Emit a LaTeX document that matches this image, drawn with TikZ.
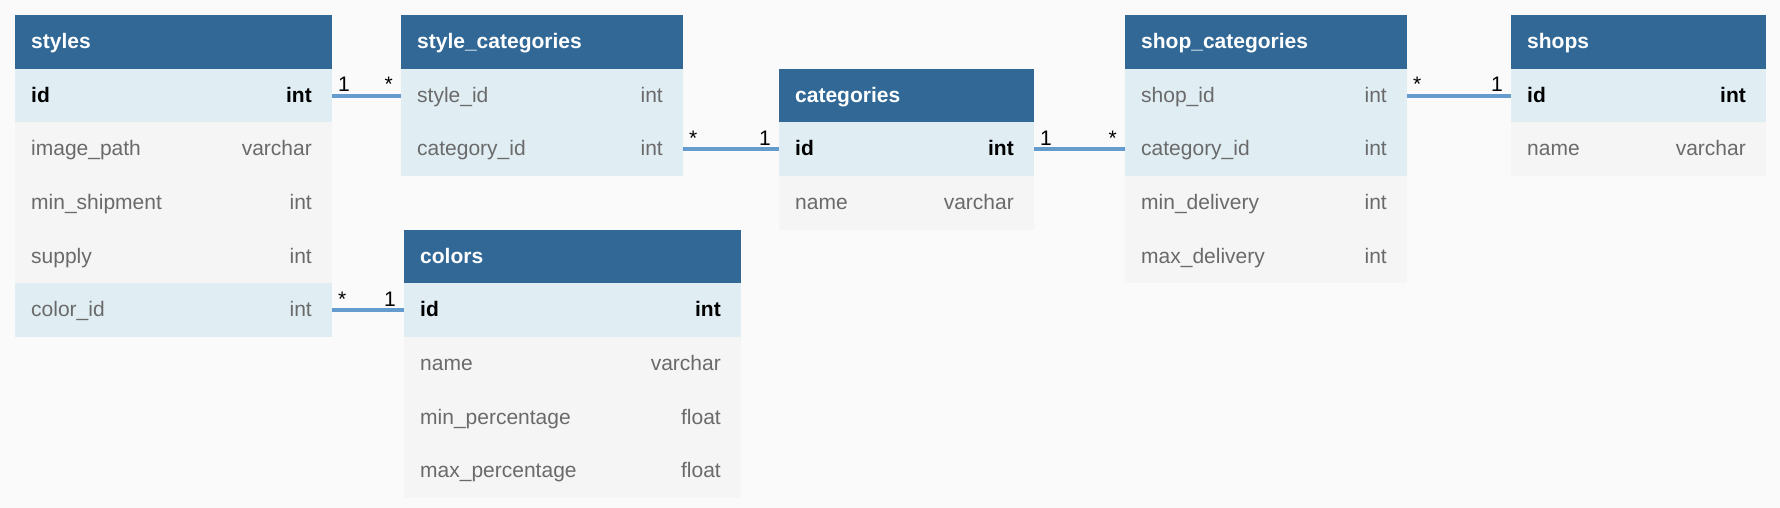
\documentclass[tikz,border=0pt]{standalone}
\usepackage{fontspec}
\setmainfont{Liberation Sans}
\definecolor{hdr}{HTML}{316896}
\definecolor{keyrow}{HTML}{E0EEF4}
\definecolor{plainrow}{HTML}{F5F5F5}
\definecolor{bgc}{HTML}{FAFAFA}
\definecolor{conn}{HTML}{639CCD}
\definecolor{gtxt}{HTML}{6A6A6A}
\tikzset{
  rowbox/.style={rectangle, inner sep=0pt, outer sep=0pt, minimum height=53.67pt},
  hdrtxt/.style={inner sep=0pt, text=white, font=\fontsize{21}{25}\selectfont\bfseries},
  keytxt/.style={inner sep=0pt, text=black, font=\fontsize{21}{25}\selectfont\bfseries},
  fldtxt/.style={inner sep=0pt, text=gtxt, font=\fontsize{21}{25}\selectfont},
  lbl/.style={inner sep=0pt, text=black, font=\fontsize{21}{25}\selectfont},
  link/.style={draw=conn, line width=4pt},
}
\newcommand{\erow}[8]{%
  \node[rowbox, fill=#5, minimum width=#4pt, anchor=north west] (#1) at (#2,#3) {};
  \node[#8, anchor=base west] at ([xshift=16pt,yshift=-6.5pt]#1.west) {#6};
  \node[#8, anchor=base east] at ([xshift=-20pt,yshift=-6.5pt]#1.east) {#7};
}
\begin{document}
\begin{tikzpicture}[x=1pt,y=-1pt]
\fill[bgc] (0,0) rectangle (1780,508);
\useasboundingbox (0,0) rectangle (1780,508);
% styles
\erow{st-h}{15}{15}{317}{hdr}{styles}{}{hdrtxt}
\erow{st-id}{15}{68.67}{317}{keyrow}{id}{int}{keytxt}
\erow{st-img}{15}{122.33}{317}{plainrow}{image\_path}{varchar}{fldtxt}
\erow{st-min}{15}{176}{317}{plainrow}{min\_shipment}{int}{fldtxt}
\erow{st-sup}{15}{229.67}{317}{plainrow}{supply}{int}{fldtxt}
\erow{st-col}{15}{283.33}{317}{keyrow}{color\_id}{int}{fldtxt}
% style_categories
\erow{sc-h}{401}{15}{282}{hdr}{style\_categories}{}{hdrtxt}
\erow{sc-style}{401}{68.67}{282}{keyrow}{style\_id}{int}{fldtxt}
\erow{sc-cat}{401}{122.33}{282}{keyrow}{category\_id}{int}{fldtxt}
% colors
\erow{co-h}{404}{229.67}{337}{hdr}{colors}{}{hdrtxt}
\erow{co-id}{404}{283.33}{337}{keyrow}{id}{int}{keytxt}
\erow{co-name}{404}{337}{337}{plainrow}{name}{varchar}{fldtxt}
\erow{co-min}{404}{390.67}{337}{plainrow}{min\_percentage}{float}{fldtxt}
\erow{co-max}{404}{444.33}{337}{plainrow}{max\_percentage}{float}{fldtxt}
% categories
\erow{ca-h}{779}{68.67}{255}{hdr}{categories}{}{hdrtxt}
\erow{ca-id}{779}{122.33}{255}{keyrow}{id}{int}{keytxt}
\erow{ca-name}{779}{176}{255}{plainrow}{name}{varchar}{fldtxt}
% shop_categories
\erow{sh-h}{1125}{15}{282}{hdr}{shop\_categories}{}{hdrtxt}
\erow{sh-shop}{1125}{68.67}{282}{keyrow}{shop\_id}{int}{fldtxt}
\erow{sh-cat}{1125}{122.33}{282}{keyrow}{category\_id}{int}{fldtxt}
\erow{sh-min}{1125}{176}{282}{plainrow}{min\_delivery}{int}{fldtxt}
\erow{sh-max}{1125}{229.67}{282}{plainrow}{max\_delivery}{int}{fldtxt}
% shops
\erow{sp-h}{1511}{15}{255}{hdr}{shops}{}{hdrtxt}
\erow{sp-id}{1511}{68.67}{255}{keyrow}{id}{int}{keytxt}
\erow{sp-name}{1511}{122.33}{255}{plainrow}{name}{varchar}{fldtxt}
% connectors
\draw[link] (st-id.east) -- (sc-style.west);
\node[lbl, anchor=base west] at ([xshift=6pt,yshift=4pt]st-id.east) {1};
\node[lbl, anchor=base east] at ([xshift=-8pt,yshift=4pt]sc-style.west) {*};
\draw[link] (st-col.east) -- (co-id.west);
\node[lbl, anchor=base west] at ([xshift=6pt,yshift=4pt]st-col.east) {*};
\node[lbl, anchor=base east] at ([xshift=-8pt,yshift=4pt]co-id.west) {1};
\draw[link] (sc-cat.east) -- (ca-id.west);
\node[lbl, anchor=base west] at ([xshift=6pt,yshift=4pt]sc-cat.east) {*};
\node[lbl, anchor=base east] at ([xshift=-8pt,yshift=4pt]ca-id.west) {1};
\draw[link] (ca-id.east) -- (sh-cat.west);
\node[lbl, anchor=base west] at ([xshift=6pt,yshift=4pt]ca-id.east) {1};
\node[lbl, anchor=base east] at ([xshift=-8pt,yshift=4pt]sh-cat.west) {*};
\draw[link] (sh-shop.east) -- (sp-id.west);
\node[lbl, anchor=base west] at ([xshift=6pt,yshift=4pt]sh-shop.east) {*};
\node[lbl, anchor=base east] at ([xshift=-8pt,yshift=4pt]sp-id.west) {1};
\end{tikzpicture}
\end{document}
